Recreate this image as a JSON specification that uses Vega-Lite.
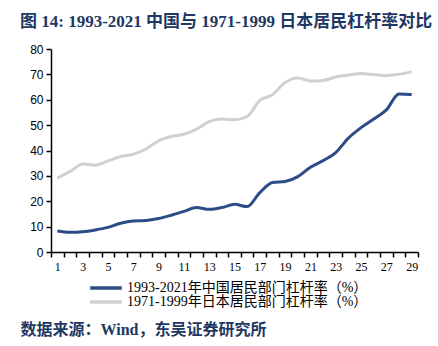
{
  "$schema": "https://vega.github.io/schema/vega-lite/v6.json",
  "width": 367,
  "height": 203,
  "autosize": {"type": "none"},
  "padding": {"left": 51, "top": 49, "right": 20, "bottom": 94},
  "background": "white",
  "config": {"view": {"stroke": null}},
  "title": {
    "text": "图 14: 1993-2021 中国与 1971-1999 日本居民杠杆率对比",
    "anchor": "start",
    "dx": 0,
    "offset": 12,
    "font": "Liberation Serif, Noto Sans CJK SC",
    "fontSize": 17,
    "fontWeight": "bold",
    "color": "#1F3864"
  },
  "data": {
    "values": [
      {"t": 1, "s": "1993-2021年中国居民部门杠杆率（%）", "v": 8.3},
      {"t": 2, "s": "1993-2021年中国居民部门杠杆率（%）", "v": 7.8},
      {"t": 3, "s": "1993-2021年中国居民部门杠杆率（%）", "v": 8.0},
      {"t": 4, "s": "1993-2021年中国居民部门杠杆率（%）", "v": 8.7},
      {"t": 5, "s": "1993-2021年中国居民部门杠杆率（%）", "v": 9.7},
      {"t": 6, "s": "1993-2021年中国居民部门杠杆率（%）", "v": 11.3},
      {"t": 7, "s": "1993-2021年中国居民部门杠杆率（%）", "v": 12.2},
      {"t": 8, "s": "1993-2021年中国居民部门杠杆率（%）", "v": 12.4},
      {"t": 9, "s": "1993-2021年中国居民部门杠杆率（%）", "v": 13.2},
      {"t": 10, "s": "1993-2021年中国居民部门杠杆率（%）", "v": 14.5},
      {"t": 11, "s": "1993-2021年中国居民部门杠杆率（%）", "v": 16.0},
      {"t": 12, "s": "1993-2021年中国居民部门杠杆率（%）", "v": 17.5},
      {"t": 13, "s": "1993-2021年中国居民部门杠杆率（%）", "v": 16.8},
      {"t": 14, "s": "1993-2021年中国居民部门杠杆率（%）", "v": 17.5},
      {"t": 15, "s": "1993-2021年中国居民部门杠杆率（%）", "v": 18.8},
      {"t": 16, "s": "1993-2021年中国居民部门杠杆率（%）", "v": 17.9},
      {"t": 17, "s": "1993-2021年中国居民部门杠杆率（%）", "v": 23.4},
      {"t": 18, "s": "1993-2021年中国居民部门杠杆率（%）", "v": 27.4},
      {"t": 19, "s": "1993-2021年中国居民部门杠杆率（%）", "v": 27.8},
      {"t": 20, "s": "1993-2021年中国居民部门杠杆率（%）", "v": 29.7},
      {"t": 21, "s": "1993-2021年中国居民部门杠杆率（%）", "v": 33.4},
      {"t": 22, "s": "1993-2021年中国居民部门杠杆率（%）", "v": 36.0},
      {"t": 23, "s": "1993-2021年中国居民部门杠杆率（%）", "v": 39.2},
      {"t": 24, "s": "1993-2021年中国居民部门杠杆率（%）", "v": 44.9},
      {"t": 25, "s": "1993-2021年中国居民部门杠杆率（%）", "v": 49.0},
      {"t": 26, "s": "1993-2021年中国居民部门杠杆率（%）", "v": 52.4},
      {"t": 27, "s": "1993-2021年中国居民部门杠杆率（%）", "v": 56.0},
      {"t": 28, "s": "1993-2021年中国居民部门杠杆率（%）", "v": 62.3},
      {"t": 29, "s": "1993-2021年中国居民部门杠杆率（%）", "v": 62.1},
      {"t": 1, "s": "1971-1999年日本居民部门杠杆率（%）", "v": 29.1},
      {"t": 2, "s": "1971-1999年日本居民部门杠杆率（%）", "v": 31.7},
      {"t": 3, "s": "1971-1999年日本居民部门杠杆率（%）", "v": 34.7},
      {"t": 4, "s": "1971-1999年日本居民部门杠杆率（%）", "v": 34.2},
      {"t": 5, "s": "1971-1999年日本居民部门杠杆率（%）", "v": 35.9},
      {"t": 6, "s": "1971-1999年日本居民部门杠杆率（%）", "v": 37.6},
      {"t": 7, "s": "1971-1999年日本居民部门杠杆率（%）", "v": 38.5},
      {"t": 8, "s": "1971-1999年日本居民部门杠杆率（%）", "v": 40.6},
      {"t": 9, "s": "1971-1999年日本居民部门杠杆率（%）", "v": 43.8},
      {"t": 10, "s": "1971-1999年日本居民部门杠杆率（%）", "v": 45.5},
      {"t": 11, "s": "1971-1999年日本居民部门杠杆率（%）", "v": 46.4},
      {"t": 12, "s": "1971-1999年日本居民部门杠杆率（%）", "v": 48.4},
      {"t": 13, "s": "1971-1999年日本居民部门杠杆率（%）", "v": 51.4},
      {"t": 14, "s": "1971-1999年日本居民部门杠杆率（%）", "v": 52.4},
      {"t": 15, "s": "1971-1999年日本居民部门杠杆率（%）", "v": 52.1},
      {"t": 16, "s": "1971-1999年日本居民部门杠杆率（%）", "v": 53.4},
      {"t": 17, "s": "1971-1999年日本居民部门杠杆率（%）", "v": 59.7},
      {"t": 18, "s": "1971-1999年日本居民部门杠杆率（%）", "v": 62.0},
      {"t": 19, "s": "1971-1999年日本居民部门杠杆率（%）", "v": 66.8},
      {"t": 20, "s": "1971-1999年日本居民部门杠杆率（%）", "v": 68.6},
      {"t": 21, "s": "1971-1999年日本居民部门杠杆率（%）", "v": 67.4},
      {"t": 22, "s": "1971-1999年日本居民部门杠杆率（%）", "v": 67.6},
      {"t": 23, "s": "1971-1999年日本居民部门杠杆率（%）", "v": 69.0},
      {"t": 24, "s": "1971-1999年日本居民部门杠杆率（%）", "v": 69.7},
      {"t": 25, "s": "1971-1999年日本居民部门杠杆率（%）", "v": 70.3},
      {"t": 26, "s": "1971-1999年日本居民部门杠杆率（%）", "v": 69.9},
      {"t": 27, "s": "1971-1999年日本居民部门杠杆率（%）", "v": 69.5},
      {"t": 28, "s": "1971-1999年日本居民部门杠杆率（%）", "v": 70.1},
      {"t": 29, "s": "1971-1999年日本居民部门杠杆率（%）", "v": 71.0}
    ]
  },
  "resolve": {"axis": {"x": "independent", "y": "independent"}},
  "layer": [
    {
      "mark": {"type": "line", "interpolate": "monotone", "strokeWidth": 3},
      "encoding": {
        "x": {
          "field": "t", "type": "ordinal",
          "scale": {"type": "band", "paddingInner": 0, "paddingOuter": 0},
          "axis": {
            "title": null,
            "labelAngle": 0,
            "tickBand": "extent",
            "labelExpr": "datum.value % 2 == 1 ? datum.label : ''",
            "labelFont": "Liberation Serif",
            "labelFontSize": 12,
            "labelColor": "#000000",
            "labelPadding": 4,
            "domainColor": "#000000",
            "domainWidth": 1.5,
            "tickColor": "#000000",
            "tickWidth": 1.5,
            "tickSize": 5
          }
        },
        "y": {
          "field": "v", "type": "quantitative",
          "scale": {"domain": [0, 80], "nice": false},
          "axis": {
            "title": null,
            "values": [0, 10, 20, 30, 40, 50, 60, 70, 80],
            "grid": false,
            "labelFont": "Liberation Sans",
            "labelFontSize": 12,
            "labelColor": "#000000",
            "labelPadding": 3,
            "domainColor": "#000000",
            "domainWidth": 1.5,
            "tickColor": "#000000",
            "tickWidth": 1.5,
            "tickSize": 5
          }
        },
        "color": {
          "field": "s", "type": "nominal",
          "scale": {
            "domain": ["1993-2021年中国居民部门杠杆率（%）", "1971-1999年日本居民部门杠杆率（%）"],
            "range": ["#2B4C85", "#D0D0D0"]
          },
          "legend": {
            "title": null,
            "orient": "none",
            "legendX": 37,
            "legendY": 232,
            "direction": "vertical",
            "columns": 1,
            "symbolType": "stroke",
            "symbolSize": 1000,
            "symbolStrokeWidth": 3.5,
            "clipHeight": 14,
            "labelFont": "Liberation Serif, Noto Sans CJK SC",
            "labelFontSize": 14,
            "labelLimit": 400,
            "labelColor": "#000000",
            "labelOffset": 3,
            "rowPadding": 0
          }
        }
      }
    },
    {
      "mark": {"type": "point", "opacity": 0},
      "encoding": {
        "x": {
          "field": "t", "type": "ordinal",
          "axis": {
            "orient": "top", "offset": -265,
            "labels": false, "ticks": false, "domain": false,
            "title": "数据来源：Wind，东吴证券研究所",
            "titleX": -31, "titleY": 15, "titleAlign": "left", "titleBaseline": "middle",
            "titleFont": "Liberation Serif, Noto Sans CJK SC",
            "titleFontSize": 16, "titleFontWeight": "bold", "titleColor": "#1F3864"
          }
        },
        "y": {"field": "v", "type": "quantitative", "axis": null}
      }
    }
  ]
}
